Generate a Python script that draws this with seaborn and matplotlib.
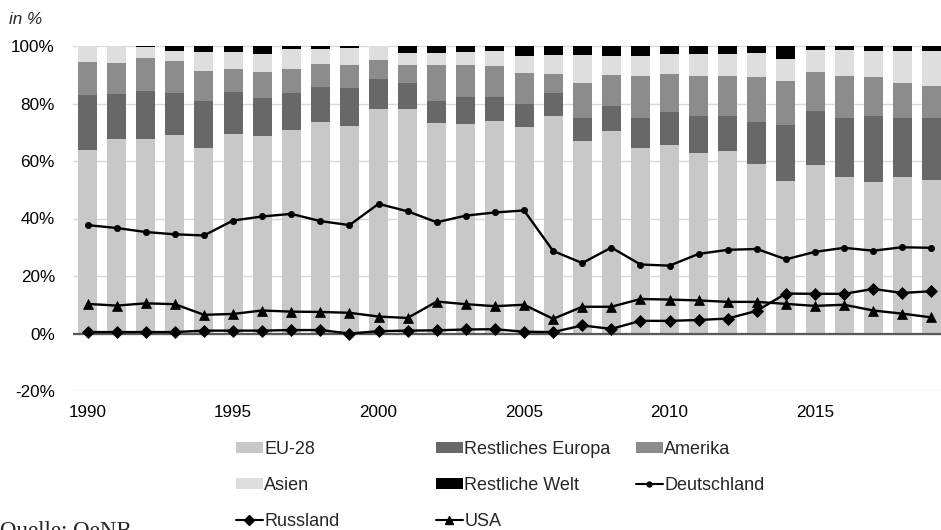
import numpy as np
import matplotlib
matplotlib.use("Agg")
import matplotlib.pyplot as plt
from matplotlib.patches import Patch
from matplotlib.lines import Line2D
from matplotlib.ticker import FuncFormatter
import seaborn as sns

# Shares of exports by destination, in %
years = list(range(1990, 2020))
eu28 = [64.0, 67.8, 67.7, 69.0, 64.5, 69.3, 68.8, 70.9, 73.6, 72.2,
        78.0, 78.2, 73.2, 72.9, 73.8, 71.9, 75.8, 67.0, 70.6, 64.5,
        65.4, 62.9, 63.5, 59.1, 53.0, 58.6, 54.6, 52.8, 54.5, 53.5]
rest_europa = [19.0, 15.6, 16.8, 14.8, 16.5, 14.8, 13.2, 12.9, 12.3, 13.3,
               10.6, 9.1, 7.8, 9.5, 8.6, 8.1, 8.0, 8.1, 8.6, 10.6,
               11.8, 12.6, 12.0, 14.5, 19.5, 18.9, 20.5, 22.7, 20.6, 21.6]
amerika = [11.4, 10.8, 11.3, 11.0, 10.4, 7.9, 9.1, 8.2, 7.9, 7.9,
           6.5, 6.1, 12.4, 11.0, 10.7, 10.6, 6.5, 12.1, 10.6, 14.5,
           13.2, 14.2, 14.2, 15.6, 15.3, 13.5, 14.4, 13.6, 11.9, 11.1]
asien = [5.6, 5.8, 3.9, 3.5, 6.4, 5.8, 6.1, 6.8, 5.3, 5.8,
         4.9, 4.1, 4.1, 4.4, 5.1, 5.9, 6.6, 9.7, 6.7, 7.0,
         6.9, 7.5, 7.5, 8.4, 7.7, 7.6, 9.0, 9.1, 11.3, 12.1]
rest_welt = [0.0, 0.0, 0.3, 1.7, 2.2, 2.2, 2.8, 1.2, 0.9, 0.8,
             0.0, 2.5, 2.5, 2.2, 1.8, 3.5, 3.1, 3.1, 3.5, 3.4,
             2.7, 2.8, 2.8, 2.4, 4.5, 1.4, 1.5, 1.8, 1.7, 1.7]

deutschland = [37.7, 36.7, 35.3, 34.5, 34.1, 39.3, 40.7, 41.6, 39.1, 37.7,
               45.1, 42.5, 38.7, 41.0, 42.1, 42.8, 28.7, 24.5, 29.9, 24.0,
               23.6, 27.7, 29.1, 29.4, 25.8, 28.4, 29.8, 28.8, 30.0, 29.8]
russland = [0.5, 0.5, 0.5, 0.5, 1.0, 1.0, 1.0, 1.2, 1.2, 0.0,
            0.8, 1.0, 1.1, 1.4, 1.5, 0.6, 0.5, 2.8, 1.6, 4.4,
            4.4, 4.7, 5.2, 7.9, 13.9, 13.8, 13.8, 15.5, 14.1, 14.7]
usa = [10.3, 9.7, 10.5, 10.2, 6.5, 6.8, 8.0, 7.6, 7.5, 7.2,
       5.9, 5.4, 11.1, 10.2, 9.5, 10.0, 5.1, 9.3, 9.3, 12.0,
       11.8, 11.5, 11.0, 11.0, 10.3, 9.6, 10.0, 8.0, 6.9, 5.6]

y_ticks = [-20, 0, 20, 40, 60, 80, 100]
x_tick_years = [1990, 1995, 2000, 2005, 2010, 2015]

sns.set_style("white")
plt.rcParams["font.family"] = ["Liberation Sans", "DejaVu Sans"]
plt.rcParams["font.size"] = 12

fig = plt.figure(figsize=(9.41, 5.30), dpi=100)
W, H = 941, 530
ax = fig.add_axes([73 / W, 139 / H, 873 / W, 345 / H])

year_labels = [str(y) for y in years]
stack = [
    ("EU-28", eu28, "#c8c8c8"),
    ("Restliches Europa", rest_europa, "#686868"),
    ("Amerika", amerika, "#8c8c8c"),
    ("Asien", asien, "#dedede"),
    ("Restliche Welt", rest_welt, "#000000"),
]
bottom = np.zeros(len(years))
for name, vals, col in stack:
    sns.barplot(x=year_labels, y=vals, order=year_labels, bottom=bottom,
                color=col, saturation=1, width=0.65, errorbar=None,
                linewidth=0, ax=ax, zorder=2)
    bottom = bottom + np.array(vals)

xpos = np.arange(len(years))
line_specs = [
    ("Deutschland", deutschland, "o", 4.5),
    ("Russland", russland, "D", 6.0),
    ("USA", usa, "^", 7.5),
]
for name, vals, mk, ms in line_specs:
    sns.lineplot(x=xpos, y=vals, color="black", lw=1.7, marker=mk, ms=ms,
                 mec="black", mfc="black", mew=0.5, ax=ax, zorder=4)

ax.axhline(0, color="#595959", lw=1.6, zorder=3)

ax.set_ylim(-20, 100)
ax.set_xlim(-0.5, len(years) - 0.5)
ax.set_yticks(y_ticks)
ax.yaxis.set_major_formatter(FuncFormatter(lambda v, p: f"{v:.0f}%"))
ax.set_xticks([years.index(y) for y in x_tick_years])
ax.set_xticklabels([str(y) for y in x_tick_years])
ax.tick_params(axis="both", length=0, labelsize=12.3, colors="black")
ax.tick_params(axis="y", pad=13)
ax.tick_params(axis="x", pad=10)
ax.set_xlabel("")
ax.set_ylabel("")
ax.yaxis.grid(True, color="#d9d9d9", lw=1)
ax.set_axisbelow(True)
for s in ax.spines.values():
    s.set_visible(False)

fig.text(9 / W, 1 - 19 / H, "in %", style="italic", fontsize=12.3, va="center")
fig.text(0, 1 - 521 / H, "Quelle: OeNB", family=["Liberation Serif", "DejaVu Serif"],
         fontsize=16.5, va="top", ha="left")

# Legend: three columns placed side by side
def patch(c):
    return Patch(facecolor=c, edgecolor="none")

def line(mk, ms):
    return Line2D([], [], color="black", lw=1.5, marker=mk, ms=ms, mfc="black", mec="black")

columns = [
    (236, [(patch("#c8c8c8"), "EU-28"), (patch("#dedede"), "Asien"),
           (line("D", 5.0), "Russland")]),
    (436, [(patch("#686868"), "Restliches Europa"), (patch("#000000"), "Restliche Welt"),
           (line("^", 6.0), "USA")]),
    (636, [(patch("#8c8c8c"), "Amerika"), (line("o", 3.5), "Deutschland")]),
]
for x0, entries in columns:
    fig.legend([e[0] for e in entries], [e[1] for e in entries],
               loc="upper left", bbox_to_anchor=(x0 / W, 1 - 441 / H),
               frameon=False, fontsize=13.0, borderpad=0, borderaxespad=0,
               handlelength=1.47, handleheight=0.58, handletextpad=0.1,
               labelspacing=1.05)

fig.savefig("out.png", dpi=100)
